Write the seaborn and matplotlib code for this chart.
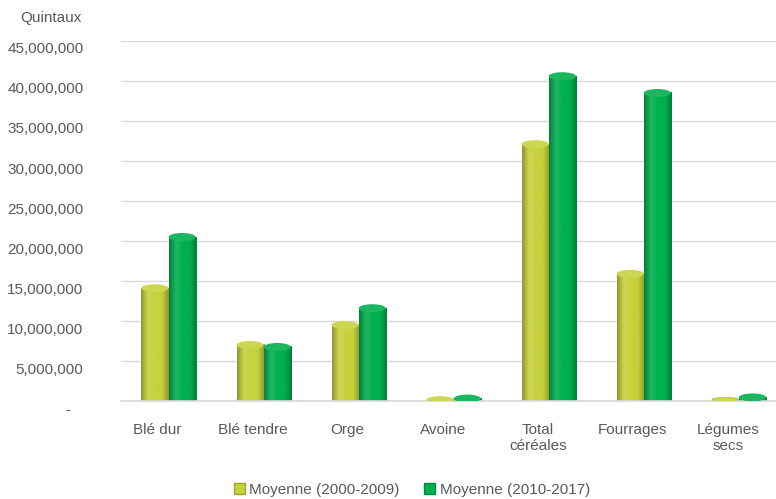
import numpy as np
import pandas as pd
import matplotlib
matplotlib.use("Agg")
import matplotlib.pyplot as plt
import matplotlib.transforms as mtrans
import seaborn as sns
from matplotlib.colors import LinearSegmentedColormap, to_rgb
from matplotlib.patches import Ellipse, Patch
from matplotlib.ticker import FuncFormatter, MultipleLocator

categories = ["Blé dur", "Blé tendre", "Orge", "Avoine", "Total\ncéréales", "Fourrages", "Légumes\nsecs"]
series_names = ["Moyenne (2000-2009)", "Moyenne (2010-2017)"]
moy_2000_2009 = [14.6e6, 7.5e6, 10.0e6, 0.6e6, 32.6e6, 16.4e6, 0.45e6]
moy_2010_2017 = [21.0e6, 7.25e6, 12.1e6, 0.8e6, 41.1e6, 39.0e6, 0.95e6]

yellow = "#C6D13C"
green = "#00AF4E"
colors = {series_names[0]: yellow, series_names[1]: green}

df = pd.DataFrame({
    "cat": categories * 2,
    "serie": [series_names[0]] * len(categories) + [series_names[1]] * len(categories),
    "val": moy_2000_2009 + moy_2010_2017,
})

sns.set_theme(style="white")
plt.rcParams["font.family"] = ["Liberation Sans", "DejaVu Sans"]
txt = "#595959"

fig = plt.figure(figsize=(7.76, 4.99), dpi=100)
ax = fig.add_axes([121 / 776, 1 - 401 / 499, 655 / 776, 360 / 499])

sns.barplot(data=df, x="cat", y="val", hue="serie", palette=colors, width=0.57,
            gap=0, ax=ax, legend=False, saturation=1, zorder=2)

XLIM = (-0.5, 6.39)
ax.set_ylim(0, 45e6)
ax.set_xlim(*XLIM)
ax.yaxis.set_major_locator(MultipleLocator(5e6))
ax.yaxis.set_major_formatter(FuncFormatter(lambda v, p: "-   " if v == 0 else f"{v:,.0f}"))
ax.grid(axis="y", color="#D9D9D9", lw=1, zorder=0)
ax.set_axisbelow(True)
for s in ["top", "right", "left"]:
    ax.spines[s].set_visible(False)
ax.spines["bottom"].set_color("#D9D9D9")
ax.tick_params(axis="y", length=0, pad=27, labelsize=11, labelcolor=txt)
ax.tick_params(axis="x", length=0, pad=16, labelsize=11, labelcolor=txt)
ax.set_xlabel("")
ax.set_ylabel("")

# 3D perspective offsets of the original: category labels left, value labels lower
offx = mtrans.ScaledTranslation(-11 / 100, 0, fig.dpi_scale_trans)
for lab in ax.get_xticklabels():
    lab.set_transform(lab.get_transform() + offx)
offy = mtrans.ScaledTranslation(0, -7 / 100, fig.dpi_scale_trans)
for lab in ax.get_yticklabels():
    lab.set_transform(lab.get_transform() + offy)

# cylinder-like shading
def shade(c, f):
    r = np.array(to_rgb(c))
    return tuple(np.clip(r * f, 0, 1)) if f < 1 else tuple(r + (1 - r) * (f - 1))

ell_h = 1.0e6
for patch in list(ax.patches):
    x0, w, h = patch.get_x(), patch.get_width(), patch.get_height()
    fc = patch.get_facecolor()[:3]
    base = yellow if np.allclose(fc, to_rgb(yellow), atol=0.02) else green
    cmap = LinearSegmentedColormap.from_list("g", [shade(base, 0.72), shade(base, 1.12),
                                                   base, base, shade(base, 0.72)])
    top = max(h - ell_h / 2, 0)
    ax.imshow(np.linspace(0, 1, 256)[None, :], extent=[x0, x0 + w, 0, top],
              aspect="auto", cmap=cmap, zorder=2.5, interpolation="bilinear")
    ax.add_patch(Ellipse((x0 + w / 2, 0.2e6), w, ell_h * 0.6, color=shade(base, 0.8), zorder=2.4, lw=0))
    ax.add_patch(Ellipse((x0 + w / 2, top), w, ell_h, color=shade(base, 1.1), zorder=2.6, lw=0))
    patch.set_visible(False)

ax.set_ylim(0, 45e6)
ax.set_xlim(*XLIM)

fig.text(82 / 776, 1 - 18 / 499, "Quintaux", ha="right", va="center", fontsize=11, color=txt)

handles = [Patch(facecolor=yellow, edgecolor=shade(yellow, 0.8)), Patch(facecolor=green, edgecolor=shade(green, 0.8))]
fig.legend(handles, series_names, loc="center", bbox_to_anchor=(412 / 776, 1 - 490 / 499),
           ncol=2, frameon=False, handlelength=0.7, handleheight=0.7, handletextpad=0.3,
           columnspacing=1.6, fontsize=11, labelcolor=txt)

fig.savefig("out.png", dpi=100)
